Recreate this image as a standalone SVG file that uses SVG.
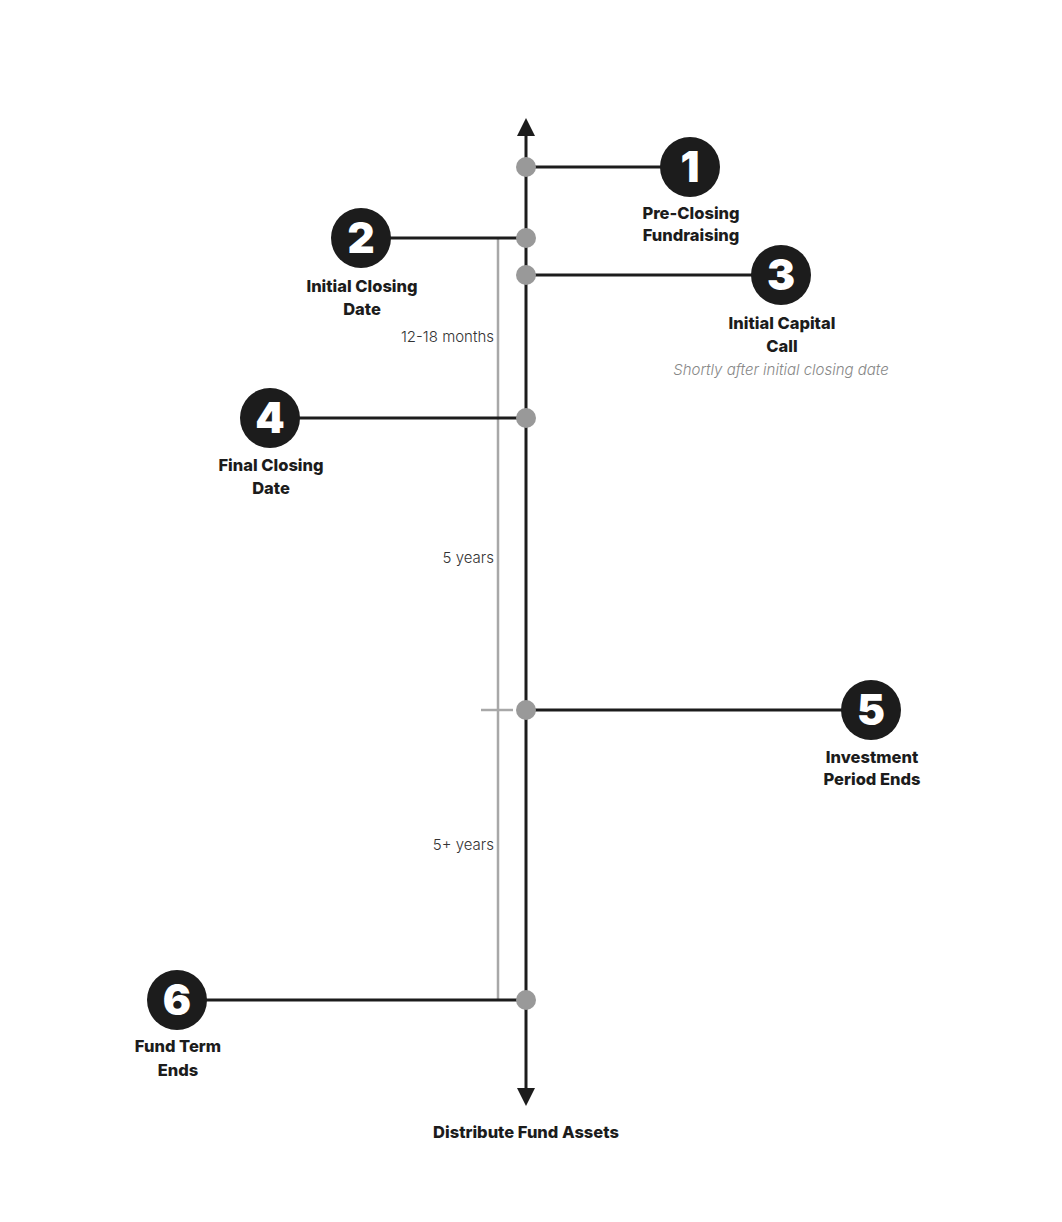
<svg xmlns="http://www.w3.org/2000/svg" width="1062" height="1222" viewBox="0 0 1062 1222">
<style>
.ln{stroke:#1c1c1c;stroke-width:3;fill:none}
.br{stroke:#a8a8a8;stroke-width:2.5;fill:none}
.dot{fill:#999}
.num{fill:#1c1c1c}
.nt{font-family:Inter,"Liberation Sans",sans-serif;font-weight:900;font-size:42px;fill:#fff;text-anchor:middle}
.lb{font-family:Inter,"Liberation Sans",sans-serif;font-weight:800;font-size:16.5px;fill:#1c1c1c;text-anchor:middle}
.sub{font-family:Inter,"Liberation Sans",sans-serif;font-style:italic;font-weight:300;font-size:15px;fill:#888;text-anchor:middle}
.dur{font-family:Inter,"Liberation Sans",sans-serif;font-weight:300;font-size:15px;fill:#333;text-anchor:end}
</style>
<defs>
<marker id="ah" viewBox="0 0 10 10" refX="5" refY="5" markerWidth="6" markerHeight="6" orient="auto-start-reverse" markerUnits="strokeWidth">
<path d="M0,0 L10,5 L0,10 Z" fill="#1c1c1c"/>
</marker>
</defs>
<rect width="1062" height="1222" fill="#fff"/>
<g id="connectors">
<line class="br" x1="498" y1="238" x2="498" y2="1000"/>
<line class="br" x1="481" y1="710" x2="513" y2="710"/>
<line class="ln" x1="526" y1="1000" x2="526" y2="1097" marker-end="url(#ah)"/>
<line class="ln" x1="526" y1="1000" x2="526" y2="127" marker-end="url(#ah)"/>
<line class="ln" x1="526" y1="167" x2="690" y2="167"/>
<line class="ln" x1="362" y1="238" x2="526" y2="238"/>
<line class="ln" x1="526" y1="275" x2="781" y2="275"/>
<line class="ln" x1="270" y1="418" x2="526" y2="418"/>
<line class="ln" x1="526" y1="710" x2="871" y2="710"/>
<line class="ln" x1="177" y1="1000" x2="526" y2="1000"/>
<circle class="dot" cx="526" cy="167" r="10"/>
<circle class="dot" cx="526" cy="238" r="10"/>
<circle class="dot" cx="526" cy="275" r="10"/>
<circle class="dot" cx="526" cy="418" r="10"/>
<circle class="dot" cx="526" cy="710" r="10"/>
<circle class="dot" cx="526" cy="1000" r="10"/>
<text class="dur" x="494" y="342">12-18 months</text>
<text class="dur" x="494" y="563">5 years</text>
<text class="dur" x="494" y="850">5+ years</text>
</g>
<g id="node1">
<circle class="num" cx="690" cy="167" r="30"/>
<text class="nt" x="690" y="182">1</text>
<text class="lb" x="691" y="219">Pre-Closing</text>
<text class="lb" x="691" y="241">Fundraising</text>
</g>
<g id="node2">
<circle class="num" cx="361" cy="238" r="30"/>
<text class="nt" x="361" y="253">2</text>
<text class="lb" x="362" y="292">Initial Closing</text>
<text class="lb" x="362" y="315">Date</text>
</g>
<g id="node3">
<circle class="num" cx="781" cy="275" r="30"/>
<text class="nt" x="781" y="290">3</text>
<text class="lb" x="782" y="329">Initial Capital</text>
<text class="lb" x="782" y="352">Call</text>
<text class="sub" x="781" y="375">Shortly after initial closing date</text>
</g>
<g id="node4">
<circle class="num" cx="270" cy="418" r="30"/>
<text class="nt" x="270" y="433">4</text>
<text class="lb" x="271" y="471">Final Closing</text>
<text class="lb" x="271" y="494">Date</text>
</g>
<g id="node5">
<circle class="num" cx="871" cy="710" r="30"/>
<text class="nt" x="871" y="725">5</text>
<text class="lb" x="872" y="763">Investment</text>
<text class="lb" x="872" y="785">Period Ends</text>
</g>
<g id="node6">
<circle class="num" cx="177" cy="1000" r="30"/>
<text class="nt" x="177" y="1015">6</text>
<text class="lb" x="178" y="1052">Fund Term</text>
<text class="lb" x="178" y="1076">Ends</text>
</g>
<g id="end">
<text class="lb" x="526" y="1138">Distribute Fund Assets</text>
</g>
</svg>
